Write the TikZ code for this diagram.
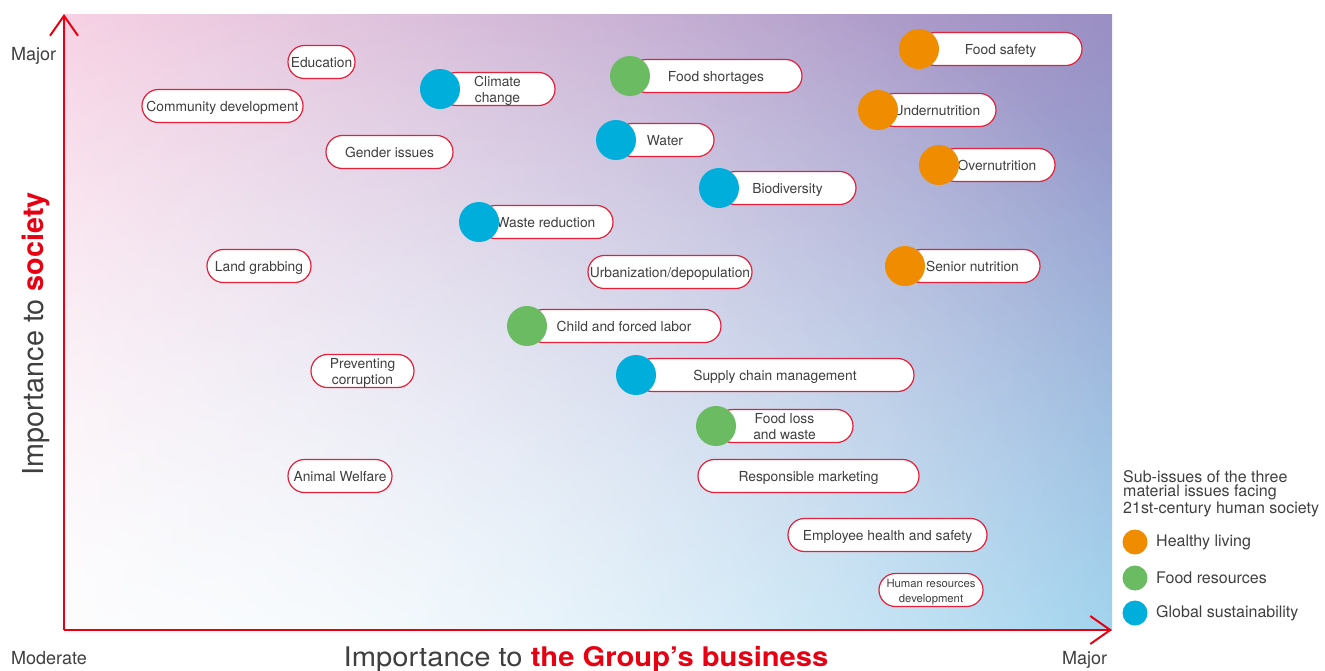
\documentclass[tikz,border=0pt]{standalone}
\usepackage{fontspec}
\setmainfont{TeX Gyre Heros}
\usetikzlibrary{arrows.meta,shadings,fadings}
\definecolor{axred}{HTML}{E60012}
\definecolor{pillred}{HTML}{E4203A}
\definecolor{txt}{HTML}{3F3F3F}
\definecolor{cOrange}{HTML}{F08C00}
\definecolor{cGreen}{HTML}{6BBB62}
\definecolor{cBlue}{HTML}{00AEDC}
\definecolor{bgTL}{HTML}{F6CBE0}
\definecolor{bgTR}{HTML}{9A8EC3}
\definecolor{bgBL}{HTML}{FAFAFD}
\definecolor{bgBR}{HTML}{8BC9EA}
\tikzfading[name=glowfade, inner color=transparent!20, outer color=transparent!100]
\tikzset{
  pill/.style={rectangle, rounded corners=16.4pt, draw=pillred, line width=1.2pt, fill=white,
    minimum height=33pt, inner sep=0pt, font=\fontsize{13.8}{16}\selectfont,
    text=txt, align=center},
  smallpill/.style={pill, font=\fontsize{11.3}{15}\selectfont},
  dot/.style={circle, minimum size=40pt, inner sep=0pt},
  legdot/.style={circle, minimum size=25pt, inner sep=0pt},
  axisline/.style={draw=axred, line width=2pt, -{Straight Barb[length=20pt,width=28pt,line width=2pt]}},
  axlabel/.style={font=\fontsize{18}{20}\selectfont, text=txt, inner sep=0pt},
  legtext/.style={font=\fontsize{16}{18}\selectfont, text=txt, inner sep=0pt, anchor=west},
}
% text set a little lower inside its pill
\newcommand\pilltext[1]{\raisebox{-1.8pt}[\height][\depth]{\begin{tabular}{@{}c@{}}#1\end{tabular}}}
% name, circle x, y, right edge, colour, text
\newcommand\issue[6]{%
  \node[pill, minimum width={(#4-#2)*1pt}] (#1) at ({(#2+#4)/2},#3) {\pilltext{#6}};
  \node[dot, fill=#5] (#1-dot) at (#2,#3) {};}
% name, left, right, y, text
\newcommand\plainissue[5]{%
  \node[pill, minimum width={(#3-#2)*1pt}] (#1) at ({(#2+#3)/2},#4) {\pilltext{#5}};}
\begin{document}
\begin{tikzpicture}[x=1pt,y=-1pt]
\useasboundingbox (0,0) rectangle (1325,670);
\shade[upper left=bgTL, upper right=bgTR, lower left=bgBL, lower right=bgBR] (64,14) rectangle (1112,630);
\begin{scope}
  \clip (64,14) rectangle (1112,630);
  \fill[white, path fading=glowfade] (280,680) ellipse [x radius=1100, y radius=800];
\end{scope}

% axes
\coordinate (O) at (64,630);
\coordinate (ytip) at (64,14);
\coordinate (xtip) at (1112,630);
\draw[axisline] (O) -- (ytip);
\draw[axisline] (O) -- (xtip);

\node[axlabel, anchor=base west] (ymajor) at (11,60) {Major};
\node[axlabel, anchor=base west] (xmoderate) at (11,664) {Moderate};
\node[axlabel, anchor=base west] (xmajor) at (1062,664) {Major};

\node[anchor=base, inner sep=0pt, text=txt, xscale=1.08, font=\fontsize{27}{28}\selectfont] (xtitle) at (586,666)
  {Importance to \textcolor{axred}{\bfseries the Group’s business}};
\node[anchor=base, rotate=90, inner sep=0pt, text=txt, font=\fontsize{28.8}{30}\selectfont] (ytitle) at (43,334)
  {Importance to \textcolor{axred}{\bfseries society}};

% issues with category dots
\issue{climate}{440}{89}{555}{cBlue}{Climate\\change}
\issue{foodshort}{630}{76}{802}{cGreen}{Food shortages}
\issue{water}{616}{140}{714}{cBlue}{Water}
\issue{biodiv}{719}{188}{856}{cBlue}{Biodiversity}
\issue{foodsafety}{919}{49}{1082}{cOrange}{Food safety}
\issue{undernut}{878}{110}{996}{cOrange}{Undernutrition}
\issue{overnut}{939}{165}{1055}{cOrange}{Overnutrition}
\issue{wastered}{479}{222}{613}{cBlue}{Waste reduction}
\issue{senior}{905}{266}{1040}{cOrange}{Senior nutrition}
\issue{child}{527}{326}{721}{cGreen}{Child and forced labor}
\issue{supply}{636}{375}{914}{cBlue}{Supply chain management}
\issue{foodloss}{716}{426}{853}{cGreen}{Food loss\\and waste}

% issues without dots
\plainissue{education}{288}{355}{62}{Education}
\plainissue{community}{142}{303}{106}{Community development}
\plainissue{gender}{326}{453}{152}{Gender issues}
\plainissue{land}{207}{311}{266}{Land grabbing}
\plainissue{urban}{588}{752}{272}{Urbanization/depopulation}
\plainissue{corruption}{311}{414}{371}{Preventing\\corruption}
\plainissue{animal}{288}{392}{476}{Animal Welfare}
\plainissue{marketing}{698}{919}{476}{Responsible marketing}
\plainissue{employee}{788}{987}{535}{Employee health and safety}
\node[smallpill, minimum width=104pt] (hr) at (931,590) {\pilltext{Human resources\\development}};

% legend
\node[anchor=north west, inner sep=0pt, align=left, text=txt, font=\fontsize{16}{14.8}\selectfont] (legtitle) at (1123,470)
  {Sub-issues of the three\\material issues facing\\21st-century human society};
\node[legdot, fill=cOrange] (leg1) at (1135,542) {};
\node[legdot, fill=cGreen] (leg2) at (1135,578) {};
\node[legdot, fill=cBlue] (leg3) at (1135,613) {};
\node[legtext] (leg1t) at (1156,542) {Healthy living};
\node[legtext] (leg2t) at (1156,578) {Food resources};
\node[legtext] (leg3t) at (1156,613) {Global sustainability};
\end{tikzpicture}
\end{document}
